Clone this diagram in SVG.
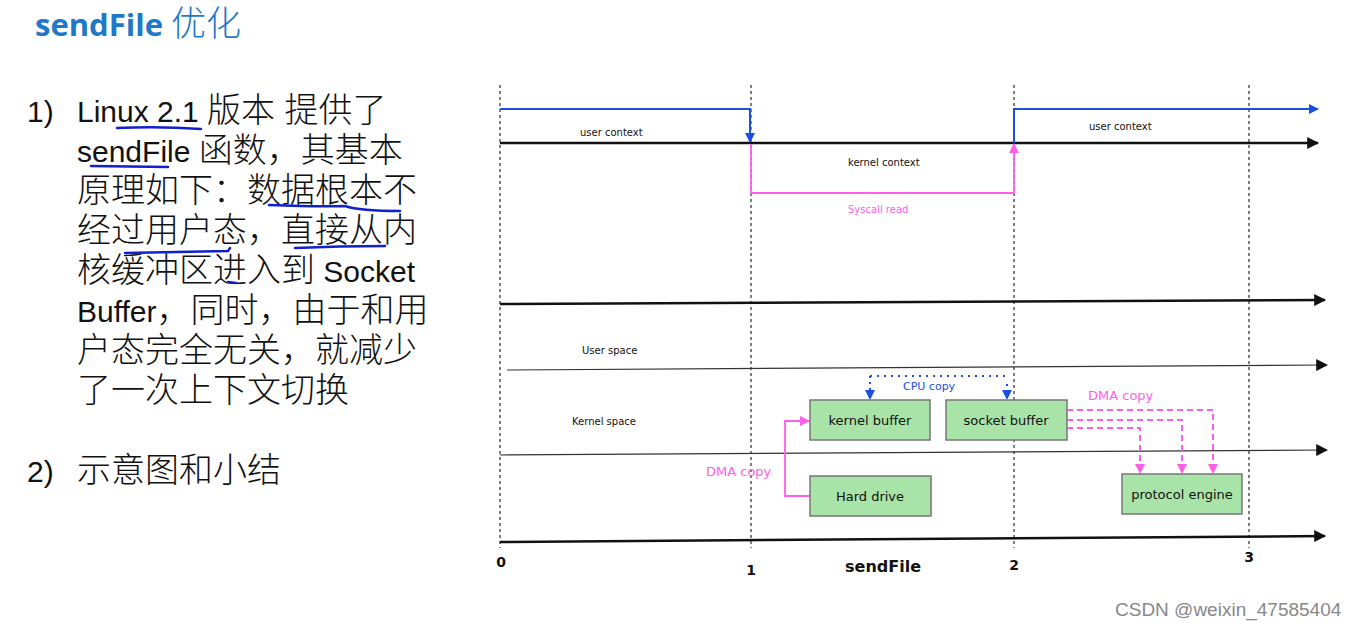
<svg xmlns="http://www.w3.org/2000/svg" width="1361" height="629" viewBox="0 0 1361 629">
<defs>
<style>
.t{font-family:"Liberation Sans","Noto Sans CJK SC",sans-serif;font-size:30px;fill:#111}
.c{font-size:34px;font-weight:300}
.sm{font-family:"DejaVu Sans","Liberation Sans",sans-serif;font-size:10px;fill:#111}
.bx{fill:#a8e4a8;stroke:#777;stroke-width:1.5}
.bl{font-family:"DejaVu Sans","Liberation Sans",sans-serif;font-size:13px;fill:#111;text-anchor:middle}
.vd{stroke:#555;stroke-width:1.5;stroke-dasharray:3 3;fill:none}
.ul{stroke:#1020d0;stroke-width:2.5;fill:none;stroke-linecap:round}
.num{font-family:"DejaVu Sans",sans-serif;font-size:14px;font-weight:bold;fill:#111;text-anchor:middle}
</style>
<marker id="ak" viewBox="0 0 10 10" refX="9" refY="5" markerWidth="12" markerHeight="12" markerUnits="userSpaceOnUse" orient="auto"><path d="M0,0 L10,5 L0,10 z" fill="#111"/></marker>
<marker id="ab" viewBox="0 0 10 10" refX="9" refY="5" markerWidth="10" markerHeight="10" markerUnits="userSpaceOnUse" orient="auto"><path d="M0,0 L10,5 L0,10 z" fill="#1a4fe0"/></marker>
<marker id="ap" viewBox="0 0 10 10" refX="9" refY="5" markerWidth="10" markerHeight="10" markerUnits="userSpaceOnUse" orient="auto"><path d="M0,0 L10,5 L0,10 z" fill="#ff5ee8"/></marker>
</defs>
<rect width="1361" height="629" fill="#fff"/>
<text x="35" y="36" font-family="'Open Sans','Noto Sans CJK SC',sans-serif" font-size="31" font-weight="bold" fill="#1f78c8">sendFile <tspan font-weight="300" font-size="35">优化</tspan></text>
<g id="text">
<text class="t" x="27" y="122">1)</text>
<text class="t" x="77" y="122">Linux 2.1 <tspan class="c">版本 提供了</tspan></text>
<text class="t" x="77" y="162">sendFile <tspan class="c">函数，其基本</tspan></text>
<text class="t" x="77" y="202"><tspan class="c">原理如下：数据根本不</tspan></text>
<text class="t" x="77" y="242"><tspan class="c">经过用户态，直接从内</tspan></text>
<text class="t" x="77" y="282"><tspan class="c">核缓冲区进入到</tspan> Socket</text>
<text class="t" x="77" y="322">Buffer<tspan class="c">，同时，由于和用</tspan></text>
<text class="t" x="77" y="362"><tspan class="c">户态完全无关，就减少</tspan></text>
<text class="t" x="77" y="402"><tspan class="c">了一次上下文切换</tspan></text>
<text class="t" x="27" y="482">2)</text>
<text class="t" x="77" y="482"><tspan class="c">示意图和小结</tspan></text>
</g>
<g id="underlines">
<path class="ul" d="M117,128 Q160,126 201,129"/>
<path class="ul" d="M91,166 L168,167"/>
<path class="ul" d="M269,205 Q320,207 345,206 Q360,211 400,211"/>
<path class="ul" d="M125,253 Q180,252 228,251 L230,248"/>
<path class="ul" d="M295,248 Q340,246 385,246"/>
<path class="ul" d="M228,282 L236,283"/>
</g>
<g id="grid">
<line class="vd" x1="500" y1="85" x2="500" y2="548"/>
<line class="vd" x1="751" y1="85" x2="751" y2="548"/>
<line class="vd" x1="1014" y1="85" x2="1014" y2="548"/>
<line class="vd" x1="1249" y1="85" x2="1249" y2="548"/>
</g>
<g id="connectors">
<line x1="500" y1="143" x2="1318" y2="143" stroke="#111" stroke-width="2.5" marker-end="url(#ak)"/>
<line x1="500" y1="304" x2="1325" y2="300" stroke="#111" stroke-width="2.5" marker-end="url(#ak)"/>
<line x1="507" y1="370" x2="1327" y2="365" stroke="#333" stroke-width="1.2" marker-end="url(#ak)"/>
<line x1="500" y1="455" x2="1327" y2="450" stroke="#333" stroke-width="1.2" marker-end="url(#ak)"/>
<line x1="500" y1="542" x2="1325" y2="536" stroke="#111" stroke-width="2.5" marker-end="url(#ak)"/>
<path d="M500,109 L750,109 L750,142" fill="none" stroke="#1a4fe0" stroke-width="2" marker-end="url(#ab)"/>
<path d="M1014,143 L1014,109 L1318,109" fill="none" stroke="#1a4fe0" stroke-width="2" marker-end="url(#ab)"/>
<path d="M751,144 L751,193 L1014,193 L1014,144" fill="none" stroke="#ff5ee8" stroke-width="1.8" marker-end="url(#ap)"/>
<path d="M870,376 L1007,376" fill="none" stroke="#1a4fe0" stroke-width="2" stroke-dasharray="2 5"/>
<line x1="870" y1="376" x2="870" y2="399" stroke="#1a4fe0" stroke-width="2" stroke-dasharray="2 4" marker-end="url(#ab)"/>
<line x1="1007" y1="384" x2="1007" y2="399" stroke="#1a4fe0" stroke-width="2" stroke-dasharray="2 4" marker-end="url(#ab)"/>
<path d="M810,496 L785,496 L785,421 L809,421" fill="none" stroke="#ff5ee8" stroke-width="1.8" marker-end="url(#ap)"/>
<g fill="none" stroke="#ff5ee8" stroke-width="2" stroke-dasharray="6 4">
<path d="M1067,410 L1213,410 L1213,473" marker-end="url(#ap)"/>
<path d="M1067,420 L1182,420 L1182,473" marker-end="url(#ap)"/>
<path d="M1067,428 L1140,428 L1140,473" marker-end="url(#ap)"/>
</g>
</g>
<g id="labels">
<text class="sm" x="580" y="136">user context</text>
<text class="sm" x="1089" y="130">user context</text>
<text class="sm" x="848" y="166">kernel context</text>
<text class="sm" x="848" y="213" style="fill:#ff5ee8">Syscall read</text>
<text class="sm" x="582" y="354">User space</text>
<text class="sm" x="572" y="425">Kernel  space</text>
<text x="903" y="390" font-family="'DejaVu Sans',sans-serif" font-size="11" fill="#1a4fe0">CPU copy</text>
<text x="706" y="476" font-family="'DejaVu Sans',sans-serif" font-size="13" fill="#ff5ee8">DMA copy</text>
<text x="1088" y="400" font-family="'DejaVu Sans',sans-serif" font-size="13" fill="#ff5ee8">DMA copy</text>
<text class="num" x="501" y="567">0</text>
<text class="num" x="751" y="575">1</text>
<text class="num" x="1014" y="570">2</text>
<text class="num" x="1249" y="562">3</text>
<text x="883" y="572" font-family="'DejaVu Sans',sans-serif" font-size="16" font-weight="bold" fill="#111" text-anchor="middle">sendFile</text>
</g>
<g id="kernel-buffer"><rect class="bx" x="810" y="400" width="120" height="40"/><text class="bl" x="870" y="425">kernel buffer</text></g>
<g id="socket-buffer"><rect class="bx" x="946" y="400" width="121" height="40"/><text class="bl" x="1006" y="425">socket buffer</text></g>
<g id="hard-drive"><rect class="bx" x="810" y="476" width="121" height="40"/><text class="bl" x="870" y="501">Hard drive</text></g>
<g id="protocol-engine"><rect class="bx" x="1122" y="474" width="120" height="40"/><text class="bl" x="1182" y="499">protocol engine</text></g>
<text x="1115" y="616" font-family="'Liberation Sans',sans-serif" font-size="19" fill="#888">CSDN @weixin_47585404</text>
</svg>
